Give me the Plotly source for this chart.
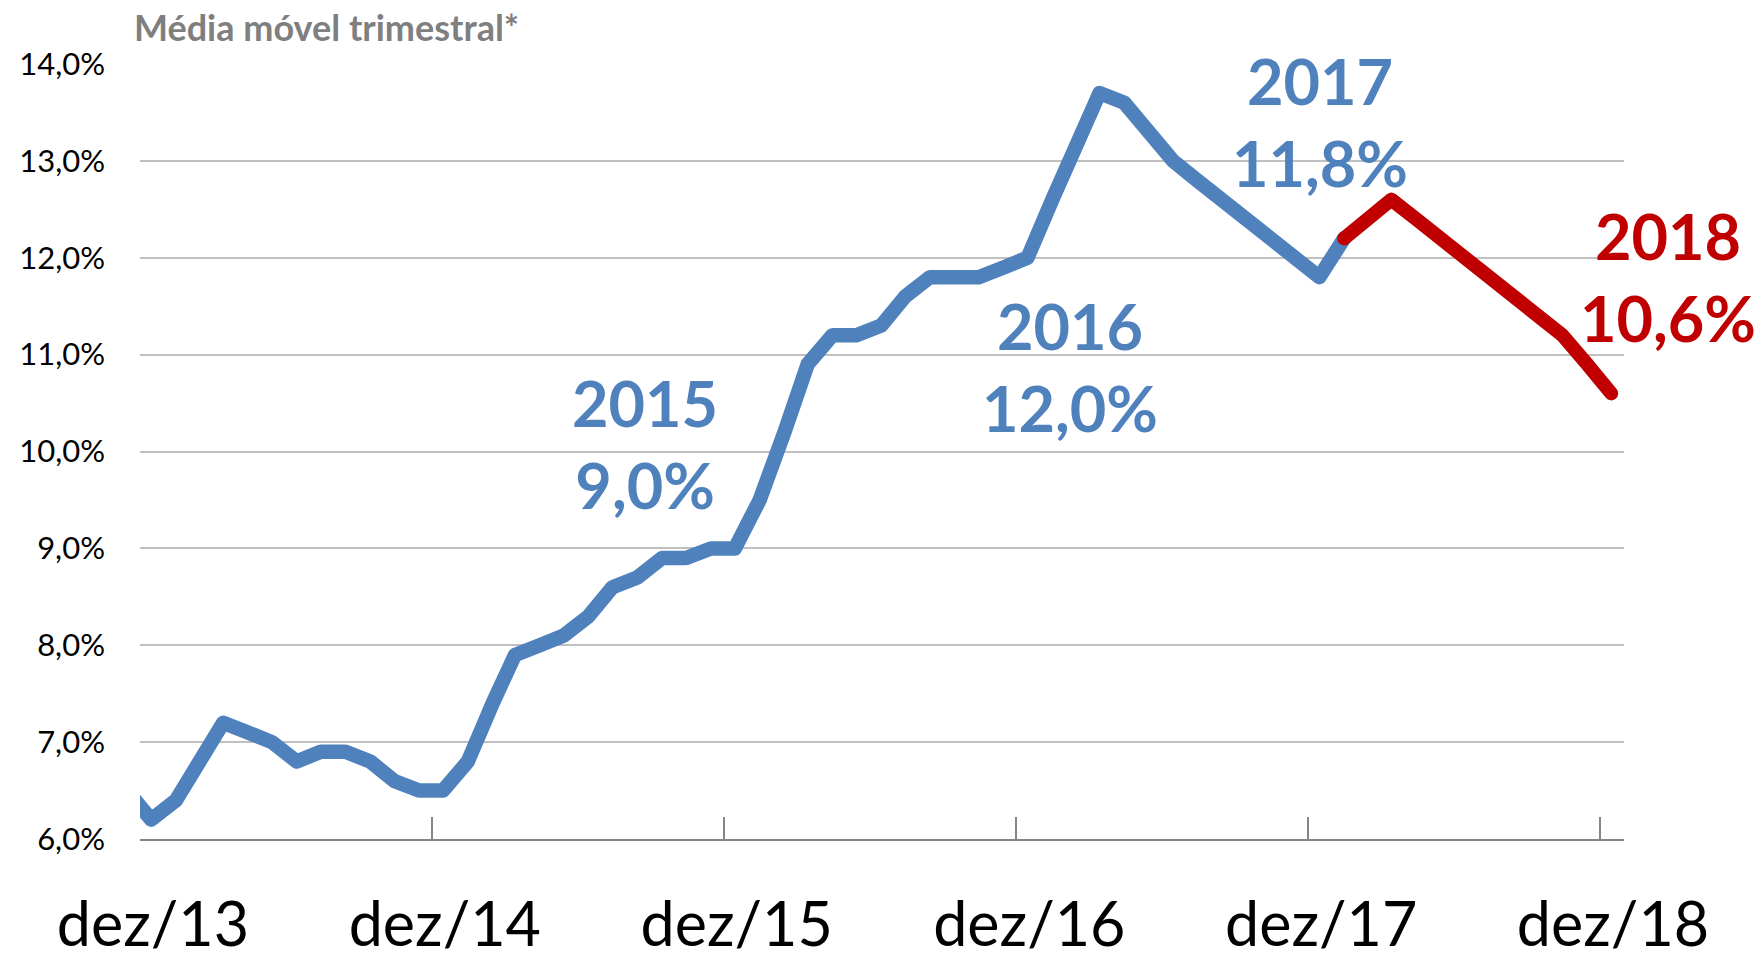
import plotly.graph_objects as go

# ---- data -------------------------------------------------------------
# monthly points (moving quarter), nov/13 .. dez/18, plotted mid-month
month_dates = []
for yr in range(2013, 2019):
    for mo in range(1, 13):
        if (yr, mo) >= (2013, 11):
            month_dates.append(f"{yr}-{mo:02d}-15")

# nov/13 .. jan/18 (blue)
blue_values = [
    6.5, 6.2, 6.4, 6.8, 7.2, 7.1, 7.0, 6.8, 6.9, 6.9, 6.8, 6.6, 6.5,   # nov/13 - nov/14
    6.5, 6.8, 7.4, 7.9, 8.0, 8.1, 8.3, 8.6, 8.7, 8.9, 8.9, 9.0,        # dez/14 - nov/15
    9.0, 9.5, 10.2, 10.9, 11.2, 11.2, 11.3, 11.6, 11.8, 11.8, 11.8, 11.9,  # dez/15 - nov/16
    12.0, 12.6, 13.2, 13.7, 13.6, 13.3, 13.0, 12.8, 12.6, 12.4, 12.2, 12.0,  # dez/16 - nov/17
    11.8, 12.2,                                                          # dez/17 - jan/18
]
# jan/18 .. dez/18 (red)
red_values = [12.2, 12.4, 12.6, 12.4, 12.2, 12.0, 11.8, 11.6, 11.4, 11.2, 10.9, 10.6]

blue_dates = month_dates[:len(blue_values)]
red_dates = month_dates[len(month_dates) - len(red_values):]

x_tick_dates = ["2013-12-01", "2014-12-01", "2015-12-01", "2016-12-01", "2017-12-01", "2018-12-01"]
x_tick_labels = ["dez/13", "dez/14", "dez/15", "dez/16", "dez/17", "dez/18"]
y_ticks = [6, 7, 8, 9, 10, 11, 12, 13, 14]
y_tick_labels = ["6,0%", "7,0%", "8,0%", "9,0%", "10,0%", "11,0%", "12,0%", "13,0%", "14,0%"]

year_labels = ["2015", "2016", "2017", "2018"]
year_values = ["9,0%", "12,0%", "11,8%", "10,6%"]

BLUE = "#4F81BD"
RED = "#C00000"
FONT = "Lato"

# ---- figure -----------------------------------------------------------
fig = go.Figure()
fig.add_trace(go.Scatter(x=blue_dates, y=blue_values, mode="lines",
                         line=dict(color=BLUE, width=14.5), hoverinfo="skip"))
fig.add_trace(go.Scatter(x=red_dates, y=red_values, mode="lines",
                         line=dict(color=RED, width=14), hoverinfo="skip"))

L, R, T, B = 139.5, 138.3, 64.3, 121.3
W, H = 1762, 960
pw = W - L - R
ph = H - T - B

def px2paper(px, py):
    return (px - L) / pw, (H - B - py) / ph

ann_pos = [(645, 444), (1070, 367), (1320, 122), (1668, 277)]
ann_col = [BLUE, BLUE, BLUE, RED]
annotations = []
for lab, val, (px, py), col in zip(year_labels, year_values, ann_pos, ann_col):
    ax, ay = px2paper(px, py)
    annotations.append(dict(
        text=f"{lab}<br>{val}", x=ax, y=ay, xref="paper", yref="paper",
        xanchor="center", yanchor="middle", showarrow=False, align="center",
        font=dict(family=FONT, size=63, color=col, weight="bold")))

tx, ty = px2paper(131, 27)
annotations.append(dict(
    text="Média móvel trimestral*", x=tx, y=ty, xref="paper", yref="paper",
    xanchor="left", yanchor="middle", showarrow=False,
    font=dict(family=FONT, size=36, color="#7F7F7F", weight="bold")))

fig.update_layout(
    width=W, height=H, autosize=False,
    margin=dict(l=L, r=R, t=T, b=B, pad=0, autoexpand=False),
    paper_bgcolor="white", plot_bgcolor="white",
    showlegend=False,
    annotations=annotations,
    font=dict(family=FONT, color="black"),
)
fig.update_xaxes(
    type="date", automargin=False,
    range=["2013-12-01", "2018-12-31"],
    tickvals=x_tick_dates, ticktext=x_tick_labels,
    ticks="inside", ticklen=22, tickwidth=1.5, tickcolor="#868686",
    ticklabelshift=13, ticklabelstandoff=32,
    tickfont=dict(family=FONT, size=61, color="black"),
    showline=True, linecolor="#868686", linewidth=2,
    showgrid=False, zeroline=False,
)
fig.update_yaxes(
    range=[6, 14], automargin=False,
    tickvals=y_ticks, ticktext=y_tick_labels,
    ticks="", ticklabelstandoff=34,
    tickfont=dict(family=FONT, size=31, color="black"),
    showline=False, showgrid=True, gridcolor="#C0C0C0", gridwidth=2,
    zeroline=False,
)

fig.write_html(
    "out.html",
    config={"displayModeBar": False, "responsive": False},
    post_script="document.body.style.margin='0';"
                "document.querySelectorAll('.js-line').forEach(function(p){"
                "p.style.strokeLinejoin='round';p.style.strokeLinecap='round';});",
)
